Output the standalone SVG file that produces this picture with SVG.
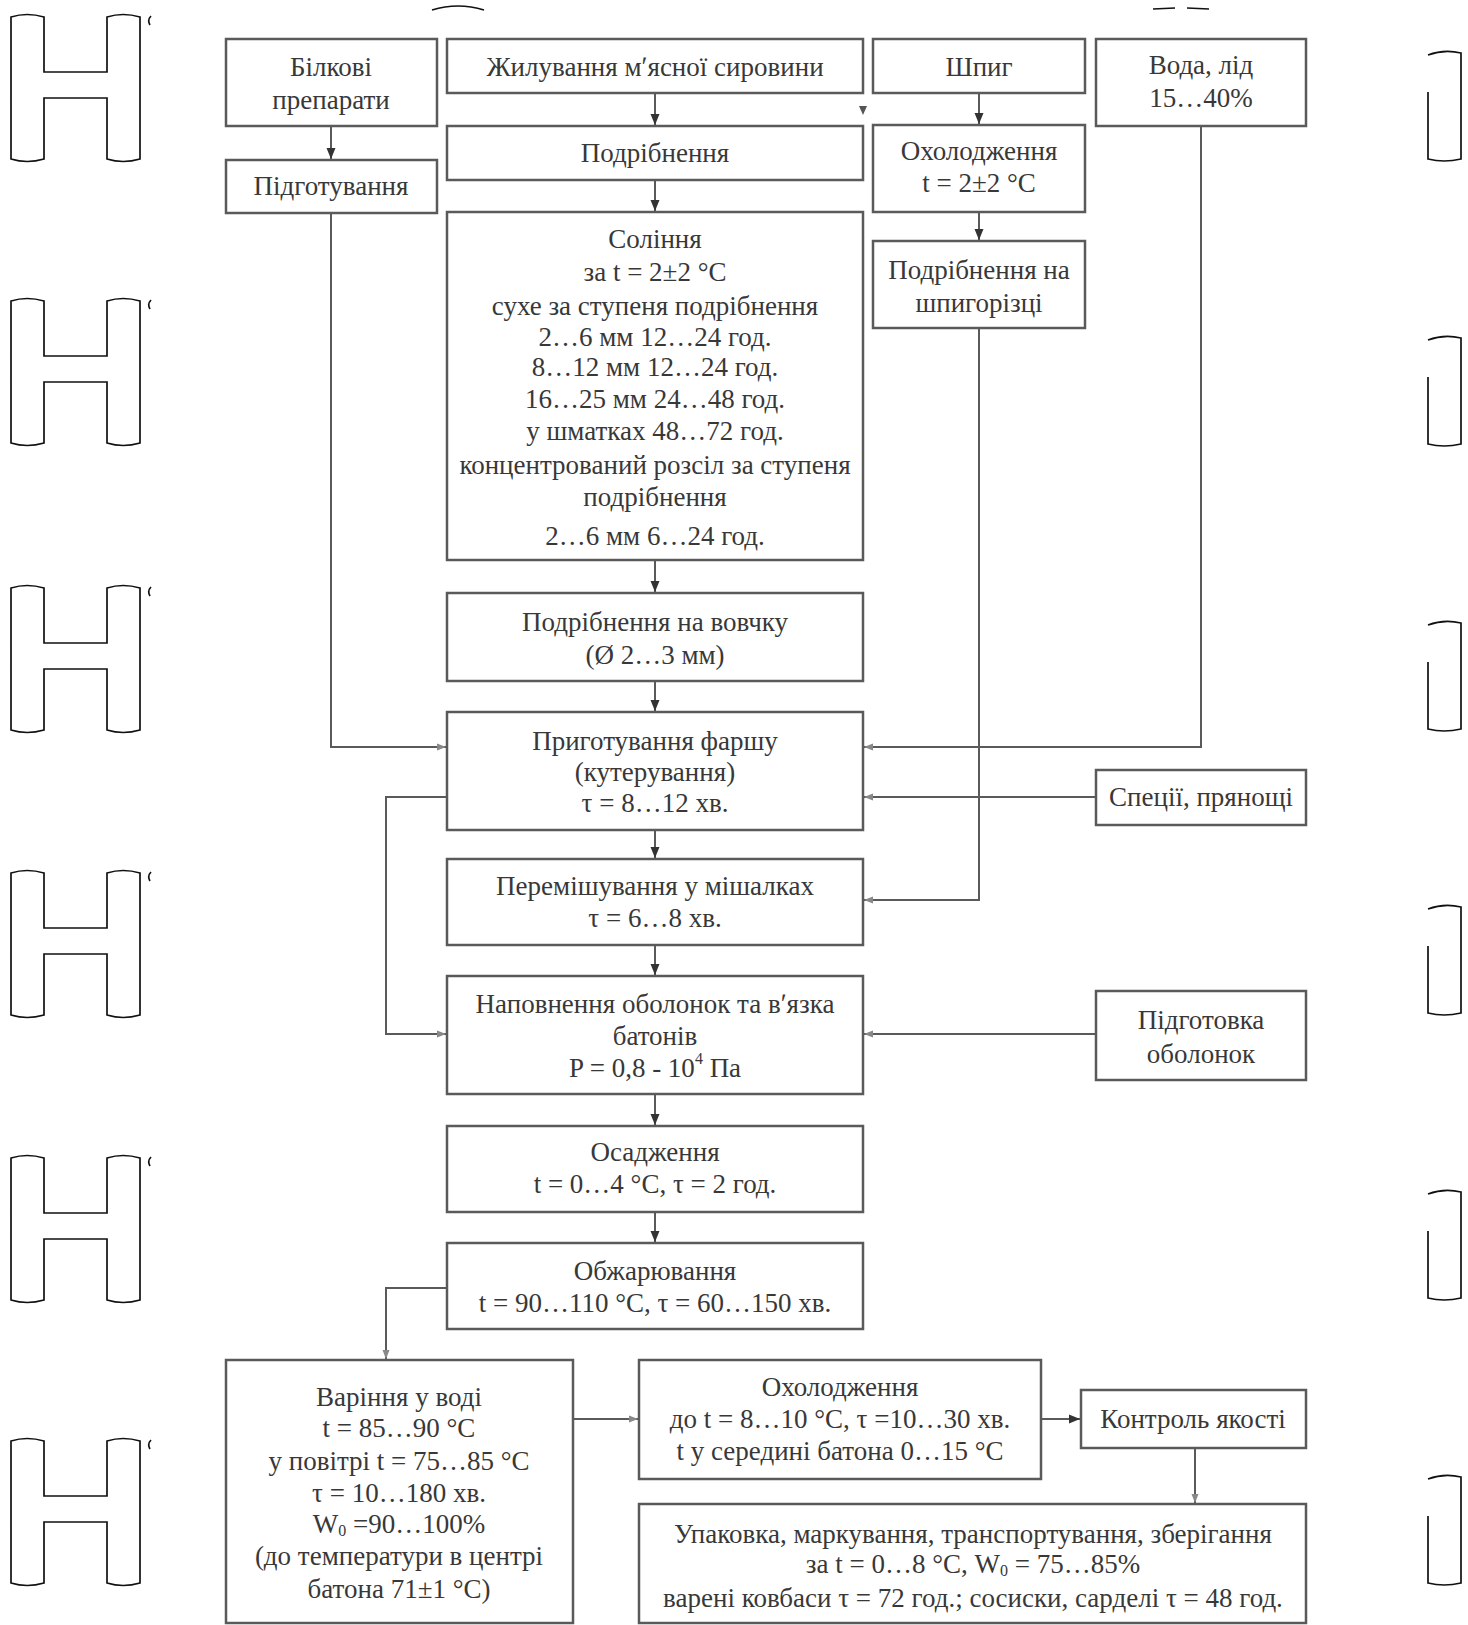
<svg xmlns="http://www.w3.org/2000/svg" width="1468" height="1625" viewBox="0 0 1468 1625">
<defs>
<marker id="ah" markerUnits="userSpaceOnUse" markerWidth="12" markerHeight="10" refX="11" refY="5" orient="auto">
<path d="M0,0.5 L11,5 L0,9.5 Z" fill="#333"/>
</marker>
<marker id="as" markerUnits="userSpaceOnUse" markerWidth="10" markerHeight="10" refX="9" refY="5" orient="auto">
<path d="M0,1.5 L9,5 L0,8.5 Z" fill="#888"/>
</marker>
<path id="hshape" d="M11,17 Q27,12 44,17 L44,72 L107,72 L107,17 Q123,12 140,17 L140,159 Q123,164 107,159 L107,98 L44,98 L44,159 Q27,164 11,159 Z"/>
<path id="bshape" d="M1428,55 Q1444,49 1461,53 L1461,159 Q1444,163 1428,159 L1428,92"/>
</defs>
<style>
.box{fill:#fff;stroke:#5a5a5a;stroke-width:2.5}
.t{font-family:"Liberation Serif","Times New Roman",serif;font-size:27px;fill:#383838;text-anchor:middle;dominant-baseline:central}
.c{fill:none;stroke:#5a5a5a;stroke-width:2}
.orn{fill:none;stroke:#111;stroke-width:1.7}
</style>
<rect width="1468" height="1625" fill="#fff"/>

<g id="ornaments">
<use href="#hshape" class="orn" y="0"/>
<use href="#hshape" class="orn" y="284"/>
<use href="#hshape" class="orn" y="571"/>
<use href="#hshape" class="orn" y="856"/>
<use href="#hshape" class="orn" y="1141"/>
<use href="#hshape" class="orn" y="1424"/>
<path class="orn" stroke-width="1.5" d="M151,16 Q147,20 150,25 M151,300 Q147,304 150,309 M151,587 Q147,591 150,596 M151,872 Q147,876 150,881 M151,1157 Q147,1161 150,1166 M151,1440 Q147,1444 150,1449"/>
<use href="#bshape" class="orn" y="0"/>
<use href="#bshape" class="orn" y="285"/>
<use href="#bshape" class="orn" y="570"/>
<use href="#bshape" class="orn" y="854"/>
<use href="#bshape" class="orn" y="1139"/>
<use href="#bshape" class="orn" y="1424"/>
<path class="orn" stroke-width="2" d="M432,10 Q458,2 484,10 M1153,9 L1175,8 M1187,8 L1209,9"/>
</g>

<g id="connectors">
<path class="c" d="M331,126 V159" marker-end="url(#ah)"/>
<path class="c" d="M331,213 V747 H446" marker-end="url(#as)"/>
<path class="c" d="M655,93 V125" marker-end="url(#ah)"/>
<path class="c" d="M655,180 V211" marker-end="url(#ah)"/>
<path class="c" d="M655,560 V592" marker-end="url(#ah)"/>
<path class="c" d="M655,681 V711" marker-end="url(#ah)"/>
<path class="c" d="M655,830 V858" marker-end="url(#ah)"/>
<path class="c" d="M655,945 V975" marker-end="url(#ah)"/>
<path class="c" d="M655,1094 V1125" marker-end="url(#ah)"/>
<path class="c" d="M655,1212 V1242" marker-end="url(#ah)"/>
<path class="c" d="M979,93 V124" marker-end="url(#ah)"/>
<path class="c" d="M979,212 V240" marker-end="url(#ah)"/>
<path class="c" d="M979,328 V900 H864" marker-end="url(#as)"/>
<path class="c" d="M1201,126 V747 H864" marker-end="url(#as)"/>
<path class="c" d="M1096,797 H864" marker-end="url(#as)"/>
<path class="c" d="M447,797 H386 V1034 H446" marker-end="url(#as)"/>
<path class="c" d="M1096,1034 H864" marker-end="url(#as)"/>
<path class="c" d="M447,1288 H386 V1359" marker-end="url(#as)"/>
<path class="c" d="M573,1419 H638" marker-end="url(#as)"/>
<path class="c" d="M1041,1419 H1080" marker-end="url(#ah)"/>
<path class="c" d="M1195,1448 V1503" marker-end="url(#as)"/>
<path d="M859,106 L867,106 L863,115 Z" fill="#555"/>
</g>

<g id="n-bilkovi"><rect class="box" x="226" y="39" width="211" height="87"/>
<text class="t" x="331" y="67">Білкові</text><text class="t" x="331" y="100">препарати</text></g>
<g id="n-pidgotuvannia"><rect class="box" x="226" y="160" width="211" height="53"/>
<text class="t" x="331" y="186">Підготування</text></g>
<g id="n-zhyluvannia"><rect class="box" x="447" y="39" width="416" height="54"/>
<text class="t" x="655" y="67">Жилування мʹясної сировини</text></g>
<g id="n-podribnennia"><rect class="box" x="447" y="126" width="416" height="54"/>
<text class="t" x="655" y="153">Подрібнення</text></g>
<g id="n-solinnia"><rect class="box" x="447" y="212" width="416" height="348"/>
<text class="t" x="655" y="239">Соління</text>
<text class="t" x="655" y="272">за t = 2±2 °С</text>
<text class="t" x="655" y="306">сухе за ступеня подрібнення</text>
<text class="t" x="655" y="337">2…6 мм 12…24 год.</text>
<text class="t" x="655" y="367">8…12 мм 12…24 год.</text>
<text class="t" x="655" y="399">16…25 мм 24…48 год.</text>
<text class="t" x="655" y="431">у шматках 48…72 год.</text>
<text class="t" x="655" y="465">концентрований розсіл за ступеня</text>
<text class="t" x="655" y="497">подрібнення</text>
<text class="t" x="655" y="536">2…6 мм 6…24 год.</text></g>
<g id="n-vovchok"><rect class="box" x="447" y="593" width="416" height="88"/>
<text class="t" x="655" y="622">Подрібнення на вовчку</text>
<text class="t" x="655" y="655">(Ø 2…3 мм)</text></g>
<g id="n-farsh"><rect class="box" x="447" y="712" width="416" height="118"/>
<text class="t" x="655" y="741">Приготування фаршу</text>
<text class="t" x="655" y="772">(кутерування)</text>
<text class="t" x="655" y="803">τ = 8…12 хв.</text></g>
<g id="n-peremishuvannia"><rect class="box" x="447" y="859" width="416" height="86"/>
<text class="t" x="655" y="886">Перемішування у мішалках</text>
<text class="t" x="655" y="918">τ = 6…8 хв.</text></g>
<g id="n-napovnennia"><rect class="box" x="447" y="976" width="416" height="118"/>
<text class="t" x="655" y="1004">Наповнення оболонок та вʹязка</text>
<text class="t" x="655" y="1036">батонів</text>
<text class="t" x="655" y="1068">P = 0,8 - 10<tspan font-size="16" dy="-10">4</tspan><tspan dy="10"> Па</tspan></text></g>
<g id="n-osadzhennia"><rect class="box" x="447" y="1126" width="416" height="86"/>
<text class="t" x="655" y="1152">Осадження</text>
<text class="t" x="655" y="1184">t = 0…4 °С, τ = 2 год.</text></g>
<g id="n-obzharyuvannia"><rect class="box" x="447" y="1243" width="416" height="86"/>
<text class="t" x="655" y="1271">Обжарювання</text>
<text class="t" x="655" y="1303">t = 90…110 °С, τ = 60…150 хв.</text></g>
<g id="n-varinnia"><rect class="box" x="226" y="1360" width="347" height="263"/>
<text class="t" x="399" y="1397">Варіння у воді</text>
<text class="t" x="399" y="1428">t = 85…90 °С</text>
<text class="t" x="399" y="1461">у повітрі t = 75…85 °С</text>
<text class="t" x="399" y="1493">τ = 10…180 хв.</text>
<text class="t" x="399" y="1524">W<tspan font-size="16" dy="6">0</tspan><tspan dy="-6"> =90…100%</tspan></text>
<text class="t" x="399" y="1556">(до температури в центрі</text>
<text class="t" x="399" y="1589">батона 71±1 °С)</text></g>
<g id="n-okholodzhennia2"><rect class="box" x="639" y="1360" width="402" height="119"/>
<text class="t" x="840" y="1387">Охолодження</text>
<text class="t" x="840" y="1419">до t = 8…10 °С, τ =10…30 хв.</text>
<text class="t" x="840" y="1451">t у середині батона 0…15 °С</text></g>
<g id="n-kontrol"><rect class="box" x="1081" y="1390" width="225" height="58"/>
<text class="t" x="1193" y="1419">Контроль якості</text></g>
<g id="n-upakovka"><rect class="box" x="639" y="1504" width="667" height="119"/>
<text class="t" x="973" y="1534">Упаковка, маркування, транспортування, зберігання</text>
<text class="t" x="973" y="1564">за t = 0…8 °С, W<tspan font-size="16" dy="6">0</tspan><tspan dy="-6"> = 75…85%</tspan></text>
<text class="t" x="973" y="1598">варені ковбаси τ = 72 год.; сосиски, сарделі τ = 48 год.</text></g>
<g id="n-shpyg"><rect class="box" x="873" y="39" width="212" height="54"/>
<text class="t" x="979" y="67">Шпиг</text></g>
<g id="n-okholodzhennia1"><rect class="box" x="873" y="125" width="212" height="87"/>
<text class="t" x="979" y="151">Охолодження</text>
<text class="t" x="979" y="183">t = 2±2 °С</text></g>
<g id="n-shpygorizka"><rect class="box" x="873" y="241" width="212" height="87"/>
<text class="t" x="979" y="270">Подрібнення на</text>
<text class="t" x="979" y="303">шпигорізці</text></g>
<g id="n-voda"><rect class="box" x="1096" y="39" width="210" height="87"/>
<text class="t" x="1201" y="65">Вода, лід</text>
<text class="t" x="1201" y="98">15…40%</text></g>
<g id="n-spetsii"><rect class="box" x="1096" y="770" width="210" height="55"/>
<text class="t" x="1201" y="797">Спеції, прянощі</text></g>
<g id="n-obolonky"><rect class="box" x="1096" y="991" width="210" height="89"/>
<text class="t" x="1201" y="1020">Підготовка</text>
<text class="t" x="1201" y="1054">оболонок</text></g>
</svg>
